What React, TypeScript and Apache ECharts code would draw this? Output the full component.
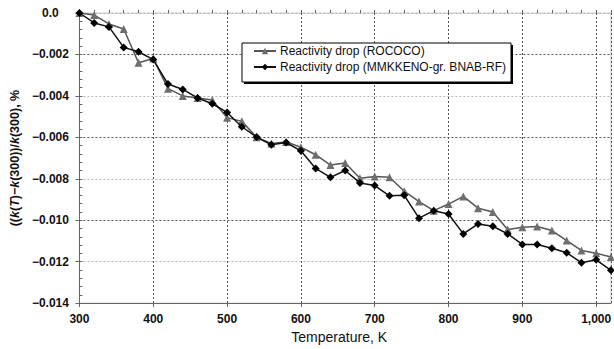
import React, { useEffect, useRef } from "react";
import * as echarts from "echarts";

const temperatures = [300, 320, 340, 360, 380, 400, 420, 440, 460, 480, 500, 520, 540, 560, 580, 600, 620, 640, 660, 680, 700, 720, 740, 760, 780, 800, 820, 840, 860, 880, 900, 920, 940, 960, 980, 1000, 1020];

const rococo = [0, -0.0001, -0.00053, -0.00077, -0.0024, -0.0022, -0.00365, -0.004, -0.0041, -0.0042, -0.00505, -0.00523, -0.006, -0.0063, -0.00622, -0.00648, -0.00684, -0.00734, -0.00724, -0.00797, -0.00789, -0.00793, -0.0086, -0.0091, -0.00954, -0.00922, -0.00885, -0.00942, -0.0096, -0.01045, -0.01034, -0.0103, -0.0105, -0.01098, -0.01146, -0.01159, -0.01178];

const mmkkeno = [0, -0.00048, -0.00067, -0.00166, -0.00187, -0.00225, -0.00343, -0.00369, -0.0041, -0.00438, -0.0048, -0.00549, -0.00599, -0.00636, -0.00625, -0.00665, -0.0075, -0.00793, -0.0076, -0.0082, -0.00833, -0.00882, -0.0088, -0.0099, -0.00954, -0.0097, -0.01066, -0.01018, -0.01029, -0.01066, -0.01117, -0.01117, -0.01135, -0.01157, -0.01205, -0.01191, -0.01242];

const seriesNames = ["Reactivity drop (ROCOCO)", "Reactivity drop (MMKKENO-gr. BNAB-RF)"];
const xAxisName = "Temperature, K";

const FONT = "'Liberation Sans', Arial, sans-serif";

export default function App() {
  const ref = useRef<HTMLDivElement>(null);
  useEffect(() => {
    if (!ref.current) return;
    const chart = echarts.init(ref.current, null, { renderer: "svg" });
    const pairs = (ys: number[]) => temperatures.map((t, i) => [t, ys[i]]);
    chart.setOption({
      animation: false,
      backgroundColor: "#fff",
      grid: { left: 72, right: -1, top: 13, bottom: 45, show: true, borderColor: "#c8c8c8", borderWidth: 1 },
      graphic: [
        { type: "rect", z: 5, shape: { x: 244, y: 45, width: 269, height: 39 }, style: { fill: "#000" } },
        { type: "rect", z: 6, shape: { x: 242, y: 43, width: 269, height: 39 }, style: { fill: "#fff", stroke: "#000", lineWidth: 1 } },
      ],
      legend: {
        orient: "vertical",
        left: 253,
        top: 45,
        padding: 0,
        itemGap: 4,
        itemWidth: 22,
        itemHeight: 8,
        z: 10,
        textStyle: { fontFamily: FONT, fontSize: 12, color: "#111", padding: [0, 0, 0, -1] },
        data: seriesNames,
      },
      xAxis: [
        {
          type: "value",
          min: 300,
          max: 1020,
          interval: 100,
          name: xAxisName,
          nameLocation: "middle",
          nameGap: 20,
          nameTextStyle: { fontFamily: FONT, fontSize: 14, color: "#111", padding: [0, 12, 0, 0] },
          axisLine: { show: true, onZero: false, lineStyle: { color: "#666", width: 1 } },
          axisTick: { show: true, inside: false, length: 4, lineStyle: { color: "#666" } },
          axisLabel: { showMaxLabel: false, margin: 10, fontFamily: FONT, fontWeight: "bold", fontSize: 12, color: "#111" },
          splitLine: { show: true, lineStyle: { type: [2, 2], color: "#555", width: 1 } },
        },
        {
          type: "value",
          min: 300,
          max: 1020,
          interval: 20,
          position: "bottom",
          axisLine: { show: false },
          axisTick: { show: true, inside: true, length: 3, lineStyle: { color: "#666" } },
          axisLabel: { show: false },
          splitLine: { show: false },
        },
      ],
      yAxis: [
        {
          type: "value",
          min: -0.014,
          max: 0,
          interval: 0.002,
          name: "((" + "{i|k}" + "(" + "{i|T}" + ")\u2212" + "{i|k}" + "(300))/" + "{i|k}" + "(300), %",
          nameLocation: "middle",
          nameRotate: 90,
          nameGap: 46,
          nameTextStyle: {
            fontFamily: FONT,
            fontWeight: "bold",
            fontSize: 12.5,
            color: "#111",
            rich: { i: { fontFamily: FONT, fontStyle: "italic", fontWeight: "bold", fontSize: 12.5, color: "#111" } },
          },
          axisLine: { show: true, onZero: false, lineStyle: { color: "#666", width: 1 } },
          axisTick: { show: true, inside: false, length: 4, lineStyle: { color: "#666" } },
          axisLabel: {
            align: "center",
            margin: 29,
            fontFamily: FONT,
            fontWeight: "bold",
            fontSize: 12,
            color: "#111",
            formatter: (v: number) => (Math.abs(v) < 1e-9 ? "0.0" : "\u2212" + Math.abs(v).toFixed(3)),
          },
          splitLine: { show: true, lineStyle: { type: [2, 2], color: ["#555", "#b5b5b5"], width: 1 } },
        },
        {
          type: "value",
          min: -0.014,
          max: 0,
          interval: 0.0004,
          position: "left",
          axisLine: { show: false },
          axisTick: { show: true, inside: true, length: 3, lineStyle: { color: "#666" } },
          axisLabel: { show: false },
          splitLine: { show: false },
        },
      ],
      series: [
        {
          name: seriesNames[0],
          type: "line",
          data: pairs(rococo),
          symbol: "triangle",
          symbolSize: 8,
          showAllSymbol: true,
          lineStyle: { color: "#555", width: 1.5 },
          itemStyle: { color: "#6e6e6e" },
          z: 3,
        },
        {
          name: seriesNames[1],
          type: "line",
          data: pairs(mmkkeno),
          symbol: "diamond",
          symbolSize: 8,
          showAllSymbol: true,
          lineStyle: { color: "#111", width: 1.5 },
          itemStyle: { color: "#000" },
          z: 4,
        },
      ],
    });
    return () => chart.dispose();
  }, []);
  return <div ref={ref} style={{ position: "absolute", left: 0, top: 0, width: 614, height: 349 }} />;
}
